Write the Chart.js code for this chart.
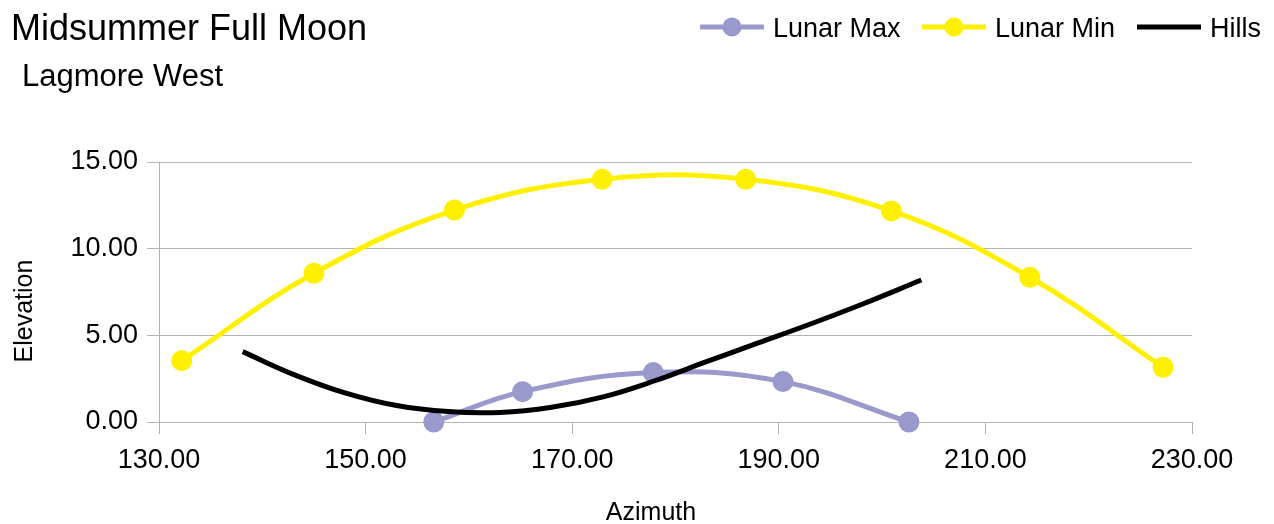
<!DOCTYPE html>
<html><head><meta charset="utf-8">
<script src="https://cdn.jsdelivr.net/npm/chart.js@4"></script>
<style>html,body{margin:0;padding:0;background:#fff}</style>
</head><body>
<canvas id="c" width="1274" height="524"></canvas>
<script>
const chartTitle = 'Midsummer Full Moon';
const chartSubtitle = 'Lagmore West';
const xAxisTitle = 'Azimuth';
const yAxisTitle = 'Elevation';
const seriesNames = ['Lunar Max', 'Lunar Min', 'Hills'];

const lunarMaxAz = [156.6, 165.2, 177.85, 190.4, 202.6];
const lunarMaxEl = [0.0, 1.75, 2.85, 2.33, 0.0];

const lunarMinAz = [132.2, 145.0, 158.6, 172.9, 186.8, 200.9, 214.3, 227.2];
const lunarMinEl = [3.54, 8.58, 12.23, 14.0, 14.0, 12.18, 8.35, 3.16];

const hillsAz = [138.1, 143.0, 148.0, 153.0, 158.0, 163.0, 168.0, 173.0, 178.0, 183.0, 188.0, 193.0, 198.0, 203.8];
const hillsEl = [4.06, 2.75, 1.68, 0.95, 0.60, 0.55, 0.85, 1.45, 2.38, 3.48, 4.56, 5.64, 6.78, 8.19];

const xTicks = [130, 150, 170, 190, 210, 230];
const yTicks = [0, 5, 10, 15];

const colors = ['#9999cc', '#fff000', '#000000'];
const FONT = '"Liberation Sans", Arial, sans-serif';

function pts(xs, ys) { return xs.map((x, i) => ({ x: x, y: ys[i] })); }

const decor = {
  id: 'decor',
  afterDraw(chart) {
    const ctx = chart.ctx;
    ctx.save();
    ctx.fillStyle = '#000';
    ctx.textAlign = 'left';
    ctx.textBaseline = 'alphabetic';
    ctx.font = '36px ' + FONT;
    ctx.fillText(chartTitle, 11, 40);
    ctx.font = '31px ' + FONT;
    ctx.fillText(chartSubtitle, 22, 86);

    ctx.font = '25px ' + FONT;
    ctx.textAlign = 'center';
    ctx.fillText(xAxisTitle, 651, 520);
    ctx.save();
    ctx.translate(32, 311);
    ctx.rotate(-Math.PI / 2);
    ctx.fillText(yAxisTitle, 0, 0);
    ctx.restore();

    // legend
    const legendX = [700, 922, 1137];
    const ly = 27;
    ctx.font = '27px ' + FONT;
    ctx.textAlign = 'left';
    chart.data.datasets.forEach((ds, i) => {
      const x0 = legendX[i];
      ctx.strokeStyle = ds.borderColor;
      ctx.lineWidth = 5;
      ctx.lineCap = 'butt';
      ctx.beginPath();
      ctx.moveTo(x0, ly);
      ctx.lineTo(x0 + 64, ly);
      ctx.stroke();
      if (ds.pointRadius > 0) {
        ctx.fillStyle = ds.pointBackgroundColor;
        ctx.beginPath();
        ctx.arc(x0 + 32, ly, 9.5, 0, Math.PI * 2);
        ctx.fill();
      }
      ctx.fillStyle = '#000';
      ctx.fillText(ds.label, x0 + 73, 37);
    });
    ctx.restore();
  }
};

new Chart(document.getElementById('c'), {
  type: 'scatter',
  data: {
    datasets: [
      { label: seriesNames[0], data: pts(lunarMaxAz, lunarMaxEl), showLine: true, borderColor: colors[0], backgroundColor: colors[0], pointBackgroundColor: colors[0], pointBorderWidth: 0, pointRadius: 10.5, borderWidth: 5, tension: 0.4, clip: false, order: 2 },
      { label: seriesNames[1], data: pts(lunarMinAz, lunarMinEl), showLine: true, borderColor: colors[1], backgroundColor: colors[1], pointBackgroundColor: colors[1], pointBorderWidth: 0, pointRadius: 10.5, borderWidth: 5, tension: 0.4, clip: false, order: 3 },
      { label: seriesNames[2], data: pts(hillsAz, hillsEl), showLine: true, borderColor: colors[2], backgroundColor: colors[2], pointBackgroundColor: colors[2], pointRadius: 0, borderWidth: 5, tension: 0.4, clip: false, order: 1 }
    ]
  },
  options: {
    responsive: false,
    animation: false,
    devicePixelRatio: 1,
    events: [],
    layout: { padding: { top: 162, right: 82, bottom: 0, left: 0 } },
    plugins: { legend: { display: false }, title: { display: false }, tooltip: { enabled: false } },
    scales: {
      x: {
        type: 'linear', min: 130, max: 230,
        afterBuildTicks: s => { s.ticks = xTicks.map(v => ({ value: v })); },
        afterFit: s => { s.height = 102; },
        grid: { drawOnChartArea: false, drawTicks: true, tickLength: 12, color: '#b3b3b3', lineWidth: 1 },
        border: { display: false },
        ticks: { font: { family: FONT, size: 27 }, color: '#000', padding: 10, maxRotation: 0, callback: v => Number(v).toFixed(2) }
      },
      y: {
        type: 'linear', min: 0, max: 15,
        afterBuildTicks: s => { s.ticks = yTicks.map(v => ({ value: v })); },
        afterFit: s => { s.width = 159; },
        grid: { color: '#b3b3b3', lineWidth: 1, tickLength: 12 },
        border: { display: true, color: '#b3b3b3', width: 1 },
        ticks: { font: { family: FONT, size: 27 }, color: '#000', padding: 9, callback: v => Number(v).toFixed(2) }
      }
    }
  },
  plugins: [decor]
});
</script>
</body></html>
